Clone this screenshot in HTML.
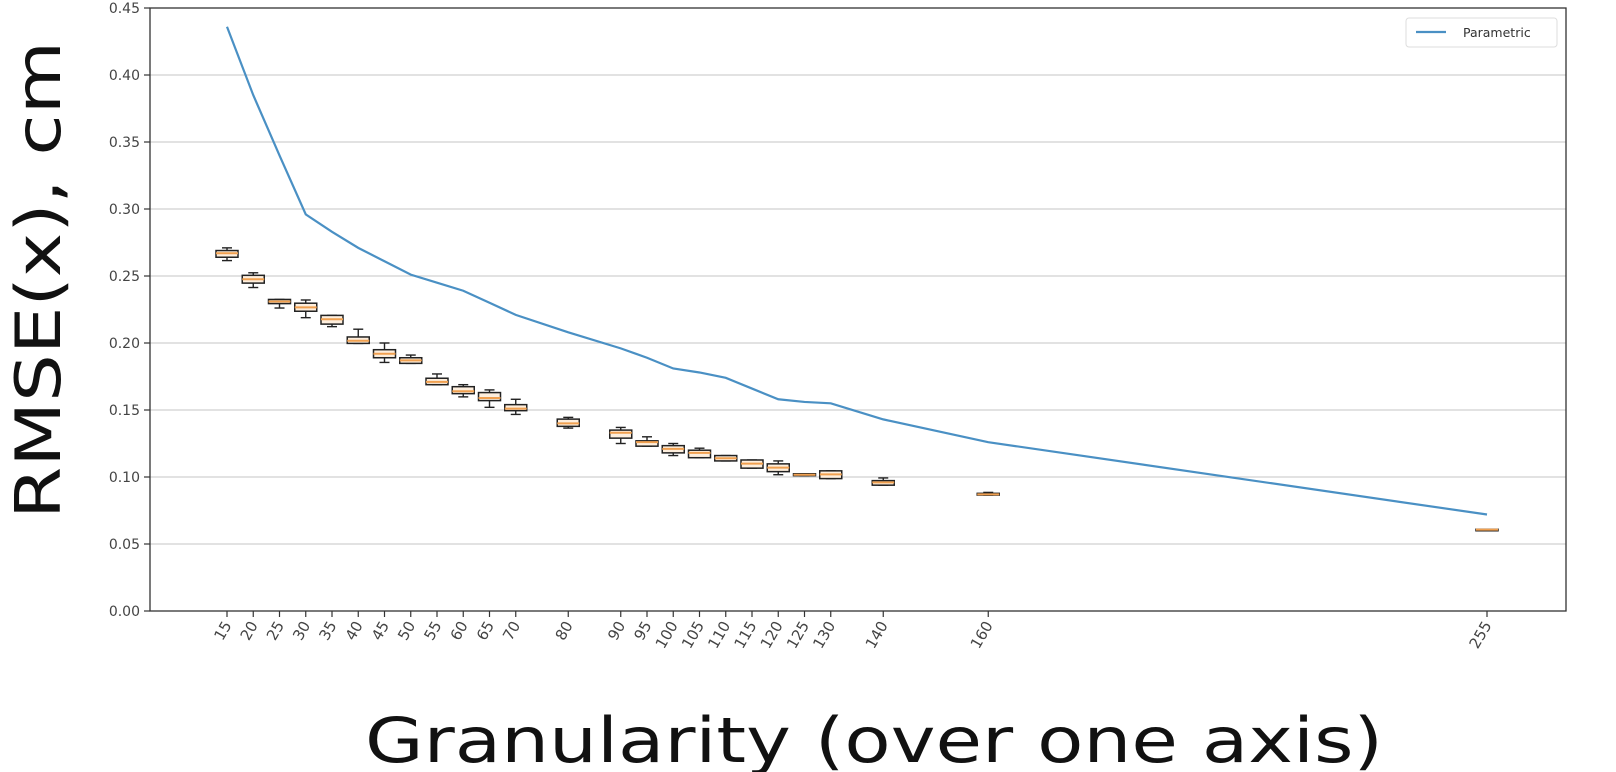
<!DOCTYPE html>
<html><head><meta charset="utf-8"><style>
html,body{margin:0;padding:0;background:#fff;}
svg{display:block;font-family:"DejaVu Sans","Liberation Sans",sans-serif;}
</style></head><body>
<svg id="chart" width="1616" height="772"></svg>
<script>
const xTicks=[15,20,25,30,35,40,45,50,55,60,65,70,80,90,95,100,105,110,115,120,125,130,140,160,255];
const yTicks=[0,0.05,0.1,0.15,0.2,0.25,0.3,0.35,0.4,0.45];
const yTickLabels=["0.00","0.05","0.10","0.15","0.20","0.25","0.30","0.35","0.40","0.45"];
const lineX=[15,20,25,30,35,40,45,50,55,60,65,70,80,90,95,100,105,110,115,120,125,130,140,160,255];
const lineY=[0.436,0.385,0.34,0.296,0.283,0.271,0.261,0.251,0.245,0.239,0.230,0.221,0.208,0.196,0.189,0.181,0.178,0.174,0.166,0.158,0.156,0.155,0.143,0.126,0.072];
const boxX=[15,20,25,30,35,40,45,50,55,60,65,70,80,90,95,100,105,110,115,120,125,130,140,160,255];
const boxLow=[0.2615,0.2414,0.2261,0.2189,0.2122,0.1997,0.1855,0.1848,0.1689,0.1598,0.152,0.1467,0.1365,0.125,0.123,0.116,0.1144,0.112,0.1066,0.1017,0.101,0.0988,0.0939,0.0865,0.0603];
const boxQ1=[0.264,0.2447,0.2294,0.2237,0.2141,0.1997,0.189,0.1848,0.1689,0.1622,0.157,0.1495,0.1378,0.129,0.123,0.118,0.1144,0.112,0.1066,0.104,0.101,0.0988,0.0939,0.0865,0.0603];
const boxMed=[0.267,0.2476,0.231,0.2266,0.2177,0.2017,0.192,0.187,0.171,0.164,0.159,0.151,0.140,0.133,0.126,0.121,0.118,0.114,0.110,0.107,0.1017,0.102,0.096,0.087,0.0607];
const boxQ3=[0.269,0.2505,0.2325,0.2297,0.2206,0.2045,0.195,0.189,0.1737,0.1674,0.163,0.154,0.1432,0.135,0.127,0.1234,0.120,0.116,0.1127,0.1098,0.1024,0.1046,0.0973,0.0878,0.061];
const boxHigh=[0.271,0.2524,0.2325,0.2321,0.2206,0.2103,0.200,0.191,0.1769,0.1689,0.165,0.158,0.1445,0.137,0.130,0.125,0.1215,0.116,0.1127,0.112,0.1024,0.1046,0.0993,0.0885,0.061];

const L=150,R=1566,T=8,B=611;
const xs=v=>227+(v-15)*(1487-227)/240;
const ys=v=>B-(v/0.45)*(B-T);
const svg=document.getElementById('chart');
const NS='http://www.w3.org/2000/svg';
function mk(tag,attrs,parent){const e=document.createElementNS(NS,tag);for(const k in attrs)e.setAttribute(k,attrs[k]);(parent||svg).appendChild(e);return e;}

const grid=mk('g',{});


yTicks.forEach((t,i)=>{
  const y=ys(t);
  if(i>0&&i<yTicks.length-1){const g=mk('line',{x1:L,x2:R,y1:y,y2:y,stroke:'#d0d0d0','stroke-width':1.3},grid);
  
  }
  const tk=mk('line',{x1:L-6,x2:L,y1:y,y2:y,stroke:'#333','stroke-width':1.2});
  
  
  const tx=mk('text',{x:L-10,y:y+5,'text-anchor':'end','font-size':14,fill:'#444'});
  tx.textContent=yTickLabels[i];
  
  
});
xTicks.forEach(t=>{
  const x=xs(t);
  const tk=mk('line',{x1:x,x2:x,y1:B,y2:B+6,stroke:'#333','stroke-width':1.2});
  
  
  const tx=mk('text',{x:x+5,y:B+14,'text-anchor':'end','font-size':15,fill:'#444',transform:`rotate(-60 ${x+5} ${B+14})`});
  tx.textContent=String(t);
  
  
});
const frame=mk('rect',{x:L,y:T,width:R-L,height:B-T,fill:'none',stroke:'#333','stroke-width':1.3});



boxX.forEach((v,i)=>{
  const x=xs(v),w=11;
  const g=mk('g',{});
  
  
  mk('line',{x1:x,x2:x,y1:ys(boxHigh[i]),y2:ys(boxQ3[i]),stroke:'#222','stroke-width':1.4},g);
  mk('line',{x1:x,x2:x,y1:ys(boxQ1[i]),y2:ys(boxLow[i]),stroke:'#222','stroke-width':1.4},g);
  mk('line',{x1:x-5,x2:x+5,y1:ys(boxHigh[i]),y2:ys(boxHigh[i]),stroke:'#222','stroke-width':1.4},g);
  mk('line',{x1:x-5,x2:x+5,y1:ys(boxLow[i]),y2:ys(boxLow[i]),stroke:'#222','stroke-width':1.4},g);
  const h=Math.max(ys(boxQ1[i])-ys(boxQ3[i]),1.5);
  mk('rect',{x:x-w,y:ys(boxQ3[i]),width:2*w,height:h,fill:'#fdeedd',stroke:'#222','stroke-width':1.5},g);
  mk('line',{x1:x-w,x2:x+w,y1:ys(boxMed[i]),y2:ys(boxMed[i]),stroke:'#f0a050','stroke-width':2},g);
});

const pl=mk('polyline',{points:lineX.map((v,i)=>xs(v)+','+ys(lineY[i])).join(' '),fill:'none',stroke:'#4a90c4','stroke-width':2.2});



const lg=mk('g',{});


mk('rect',{x:1406,y:18,width:151,height:29,rx:3,fill:'#fff',stroke:'#ddd'},lg);
mk('line',{x1:1416,x2:1446,y1:32,y2:32,stroke:'#4a90c4','stroke-width':2.2},lg);
const lt=mk('text',{x:1463,y:37,'font-size':12.5,fill:'#333'},lg);
lt.textContent='Parametric';



const yl=mk('text',{x:0,y:0,'font-size':62,fill:'#111','text-anchor':'middle',textLength:478,lengthAdjust:'spacingAndGlyphs',transform:'translate(60 280) rotate(-90)'});
yl.textContent='RMSE(x), cm';


const xl=mk('text',{x:874,y:762,'font-size':62,fill:'#111','text-anchor':'middle',textLength:1018,lengthAdjust:'spacingAndGlyphs'});
xl.textContent='Granularity (over one axis)';


</script>
</body></html>
